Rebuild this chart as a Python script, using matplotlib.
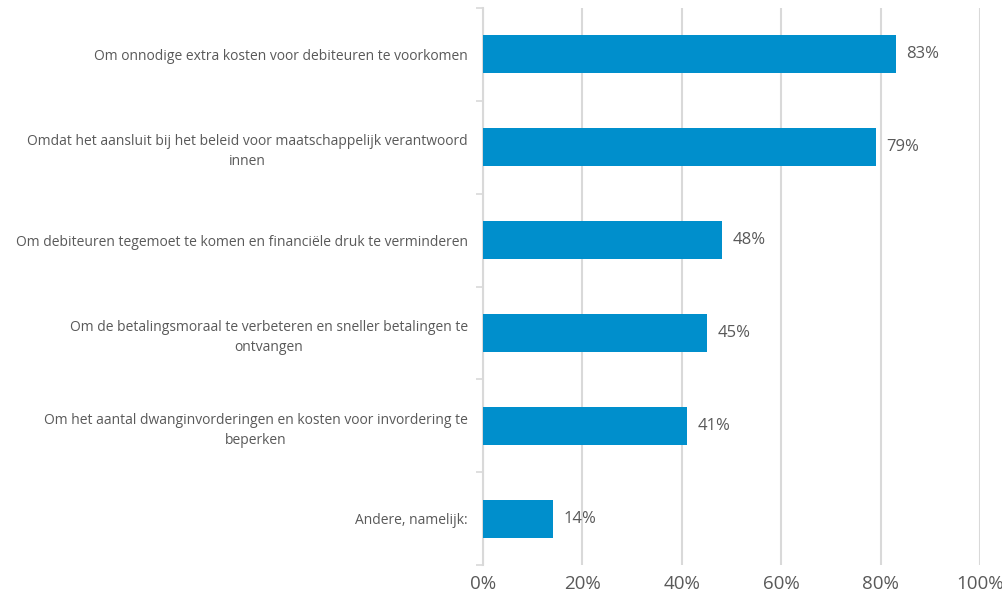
import matplotlib.pyplot as plt
from matplotlib.ticker import FixedLocator, PercentFormatter

categories = [
    "Om onnodige extra kosten voor debiteuren te voorkomen",
    "Omdat het aansluit bij het beleid voor maatschappelijk verantwoord\ninnen",
    "Om debiteuren tegemoet te komen en financiële druk te verminderen",
    "Om de betalingsmoraal te verbeteren en sneller betalingen te\nontvangen",
    "Om het aantal dwanginvorderingen en kosten voor invordering te\nbeperken",
    "Andere, namelijk:",
]
values = [83, 79, 48, 45, 41, 14]
xticks = [0, 20, 40, 60, 80, 100]

plt.rcParams['font.family'] = ['Open Sans', 'DejaVu Sans']
grey = '#595959'
light = '#d9d9d9'

fig = plt.figure(figsize=(10.03, 5.99), dpi=100)
ax = fig.add_axes([0.4816, 0.0568, 0.4955, 0.9298])

pos = list(range(len(categories)))
ax.barh(pos, values, height=0.41, color='#008FCC', zorder=3)
for p, v in zip(pos, values):
    ax.text(v + 2.2, p, f"{v}%", va='center', ha='left', fontsize=12, color=grey)

ax.set_xlim(0, 100)
ax.set_ylim(len(categories) - 0.5, -0.5)
ax.set_xticks(xticks)
ax.xaxis.set_major_formatter(PercentFormatter(decimals=0))
ax.tick_params(axis='x', length=0, labelsize=13.5, labelcolor=grey, pad=7)

ax.set_yticks(pos)
ax.set_yticklabels(categories, fontsize=10, color=grey, multialignment='center',
                   linespacing=1.45)
ax.tick_params(axis='y', which='major', length=0, pad=11)
ax.yaxis.set_minor_locator(FixedLocator([i - 0.5 for i in range(len(categories) + 1)]))
ax.tick_params(axis='y', which='minor', length=5, color=light, width=1.2)

ax.grid(axis='x', color=light, linewidth=1.5, zorder=0)
for s in ['top', 'right', 'bottom']:
    ax.spines[s].set_visible(False)
ax.spines['left'].set_color(light)
ax.spines['left'].set_linewidth(1.5)

plt.savefig("out.png", dpi=100)
plt.close()
